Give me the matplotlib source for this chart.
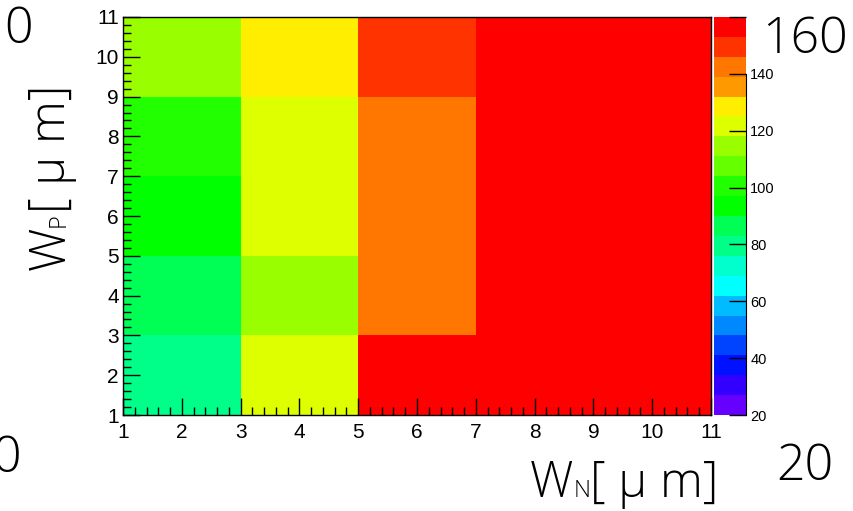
import numpy as np
import matplotlib
matplotlib.use("Agg")
import matplotlib.pyplot as plt
from matplotlib.colors import ListedColormap, BoundaryNorm
from matplotlib.ticker import MultipleLocator

# bin edges [um]
wn_edges = [1, 3, 5, 7, 9, 11]
wp_edges = [1, 3, 5, 7, 9, 11]

# z values, one row per WP bin (bottom to top), one column per WN bin
z = np.array([
    [80, 121, 158, 158, 158],
    [86, 115, 142, 158, 158],
    [94, 121, 142, 158, 158],
    [100, 121, 142, 158, 158],
    [115, 128, 150, 158, 158],
])

# palette, 20 contour levels from 20 to 160
palette = ["#6600ff", "#3300ff", "#0011ff", "#0044ff", "#0088ff",
           "#00bbff", "#00ffff", "#00ffcc", "#00ff88", "#00ff55",
           "#00ff00", "#22ff00", "#66ff00", "#99ff00", "#ddff00",
           "#ffee00", "#ff9900", "#ff7700", "#ff3300", "#ff0000"]
levels = np.linspace(20, 160, 21)
z_ticks = [20, 40, 60, 80, 100, 120, 140, 160]
z_ticklabels = ["20", "40", "60", "80", "100", "120", "140", ""]
xy_ticks = list(range(1, 12))

cmap = ListedColormap(palette)
norm = BoundaryNorm(levels, cmap.N, clip=True)

W, H = 854, 511
fig = plt.figure(figsize=(W / 100, H / 100), dpi=100)

ax = fig.add_axes([123 / W, 1 - 415 / H, (711 - 123) / W, (415 - 17) / H])
ax.pcolormesh(wn_edges, wp_edges, z, cmap=cmap, norm=norm)
ax.set_xlim(1, 11)
ax.set_ylim(1, 11)
ax.set_xticks(xy_ticks)
ax.set_yticks(xy_ticks)
ax.xaxis.set_minor_locator(MultipleLocator(0.2))
ax.yaxis.set_minor_locator(MultipleLocator(0.2))
ax.tick_params(which="both", direction="in", top=False, right=False,
               labelsize=15, width=1)
ax.tick_params(which="major", length=12)
ax.tick_params(which="minor", length=5.5)
ax.tick_params(axis="x", pad=6)
ax.tick_params(axis="y", pad=3)
for lab in ax.get_xticklabels() + ax.get_yticklabels():
    lab.set_family("Liberation Sans")
for s in ax.spines.values():
    s.set_linewidth(1)

# palette axis
cax = fig.add_axes([714 / W, 1 - 415 / H, (746 - 714) / W, (415 - 17) / H])
mids = (levels[:-1] + levels[1:]) / 2
cax.pcolormesh([0, 1], levels, mids.reshape(-1, 1), cmap=cmap, norm=norm)
cax.set_xlim(0, 1)
cax.set_ylim(20, 160)
cax.set_xticks([])
cax.yaxis.tick_right()
cax.set_yticks(z_ticks)
cax.set_yticklabels(z_ticklabels, family="Liberation Sans", fontsize=10.5)
cax.tick_params(axis="y", direction="in", length=12, width=1, pad=3)
for side in ["left", "top", "bottom"]:
    cax.spines[side].set_visible(False)
cax.spines["right"].set_bounds(20, 140)

title_font = dict(family=["Open Sans", "DejaVu Sans"], fontweight="light",
                  color="black")

# x title: W, small N on the baseline, then the unit
y_base = 1 - 497 / H
t = fig.text(530 / W, y_base, "W", fontsize=35, ha="left", va="baseline", **title_font)
t = ax.annotate("N", xy=(1, y_base), xycoords=(t, "figure fraction"),
                fontsize=17, ha="left", va="baseline", annotation_clip=False,
                **title_font)
t = ax.annotate("[ \u03bc m]", xy=(1, y_base), xycoords=(t, "figure fraction"),
                fontsize=35, ha="left", va="baseline", annotation_clip=False,
                **title_font)

# y title, rotated
x_base = 65 / W
t = fig.text(x_base, 1 - 270 / H, "W", fontsize=35, rotation=90,
             rotation_mode="anchor", ha="left", va="baseline", **title_font)
t = ax.annotate("P", xy=(x_base, 1), xycoords=("figure fraction", t),
                fontsize=17, rotation=90, rotation_mode="anchor",
                ha="left", va="baseline", annotation_clip=False, **title_font)
t = ax.annotate("[ \u03bc m]", xy=(x_base, 1), xycoords=("figure fraction", t),
                fontsize=35, rotation=90, rotation_mode="anchor",
                ha="left", va="baseline", annotation_clip=False, **title_font)

# large numbers around the frame
big = dict(fontsize=36, ha="left", va="baseline", **title_font)
fig.text(4 / W, 1 - 43 / H, "0", **big)
fig.text(-8 / W, 1 - 472 / H, "0", **big)
fig.text(762 / W, 1 - 53 / H, "160", **big)
fig.text(776 / W, 1 - 480 / H, "20", **big)

fig.savefig("out.png", dpi=100)
